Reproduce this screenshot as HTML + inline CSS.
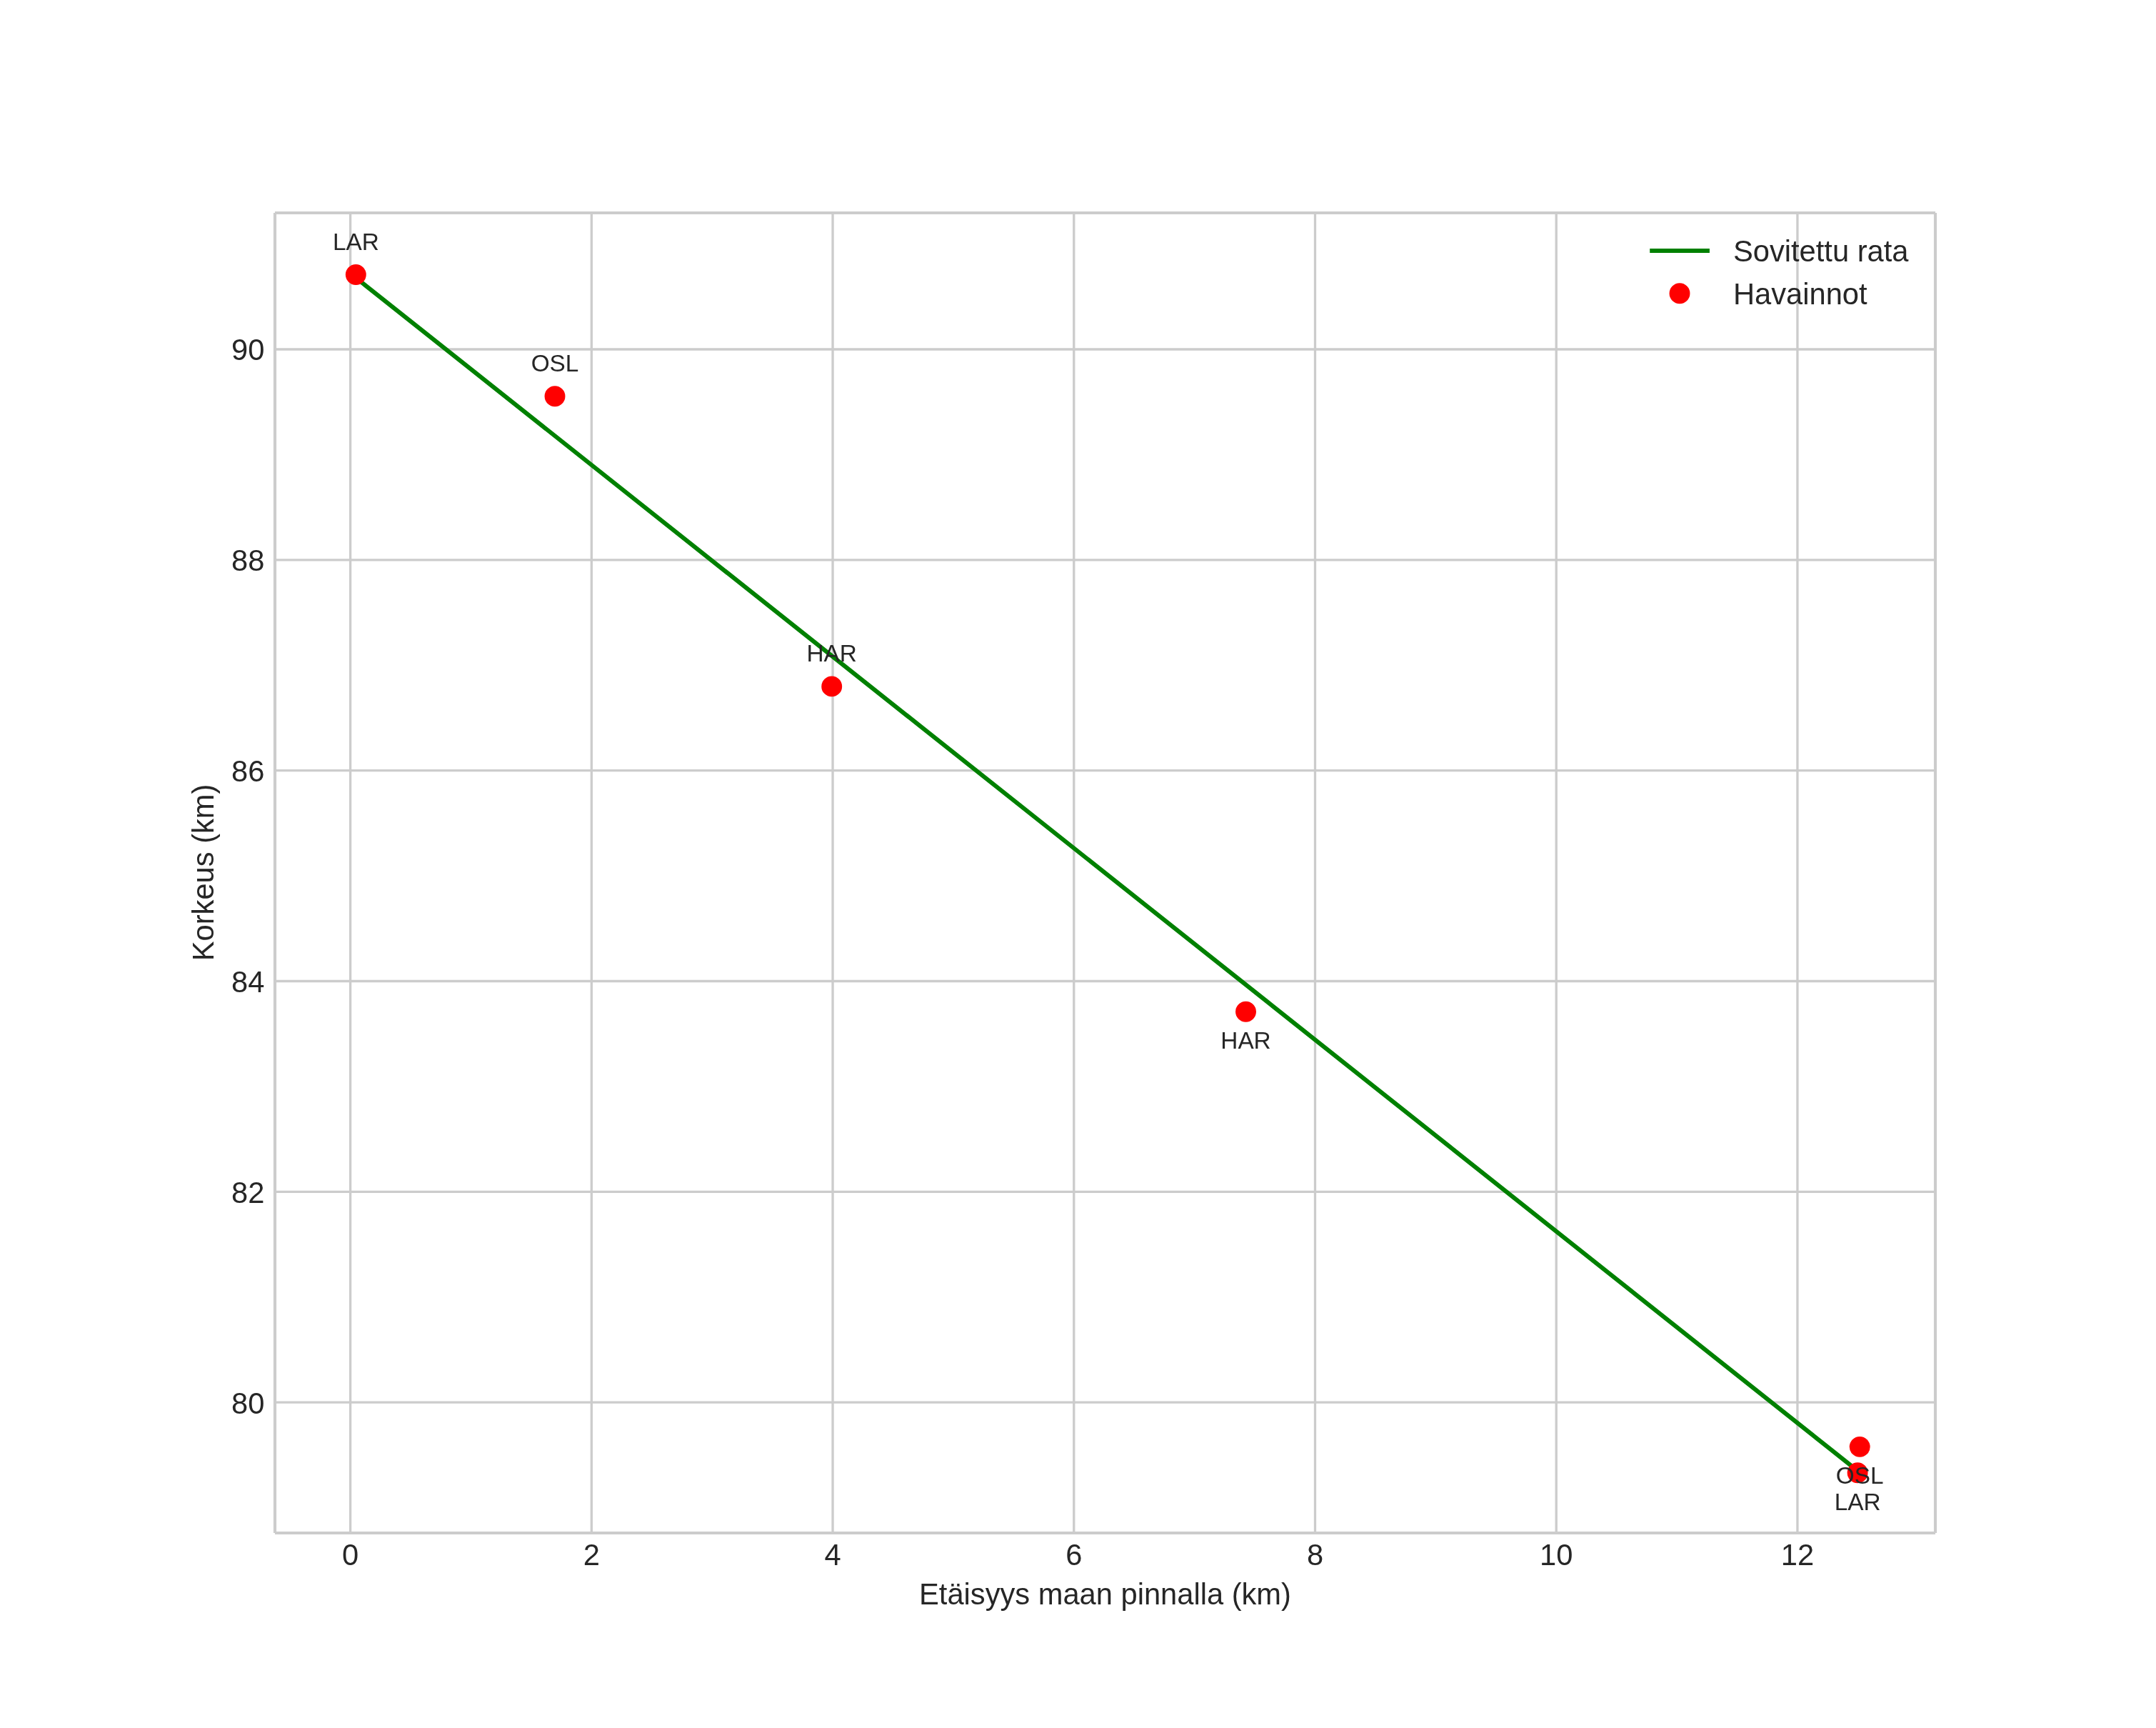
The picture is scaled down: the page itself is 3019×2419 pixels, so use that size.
<!DOCTYPE html><html><head><meta charset="utf-8"><title>Sovitettu rata</title><style>html,body{margin:0;padding:0;background:#fff;overflow:hidden;}svg{display:block;will-change:transform;}svg text{font-family:"Liberation Sans",sans-serif;fill:#262626;}</style></head><body>
<svg width="3019" height="2419" viewBox="0 0 3019 2419">
<rect x="0" y="0" width="3019" height="2419" fill="#ffffff"/>
<path d="M490.60 298.0V2146.0M828.32 298.0V2146.0M1166.04 298.0V2146.0M1503.76 298.0V2146.0M1841.48 298.0V2146.0M2179.20 298.0V2146.0M2516.92 298.0V2146.0M385.0 1963.20H2710.0M385.0 1668.36H2710.0M385.0 1373.52H2710.0M385.0 1078.68H2710.0M385.0 783.84H2710.0M385.0 489.00H2710.0" stroke="#cccccc" stroke-width="3.33" fill="none"/>
<line x1="490.6" y1="382.7" x2="2601.35" y2="2059.03" stroke="#008000" stroke-width="6.05" stroke-linecap="round"/>
<circle cx="498.3" cy="384.5" r="14.45" fill="#ff0000"/>
<circle cx="777.0" cy="554.8" r="14.45" fill="#ff0000"/>
<circle cx="1164.7" cy="960.9" r="14.45" fill="#ff0000"/>
<circle cx="1744.5" cy="1416.3" r="14.45" fill="#ff0000"/>
<circle cx="2604.2" cy="2025.4" r="14.45" fill="#ff0000"/>
<circle cx="2601.1" cy="2061.8" r="14.45" fill="#ff0000"/>
<path d="M385.0 298.0V2146.0M2710.0 298.0V2146.0M385.0 298.0H2710.0M385.0 2146.0H2710.0" fill="none" stroke="#cccccc" stroke-width="4.17" stroke-linecap="butt"/>
<text x="498.3" y="350.0" font-size="33.33" text-anchor="middle">LAR</text>
<text x="777.0" y="519.9" font-size="33.33" text-anchor="middle">OSL</text>
<text x="1164.7" y="926.0" font-size="33.33" text-anchor="middle">HAR</text>
<text x="1744.5" y="1468.0" font-size="33.33" text-anchor="middle">HAR</text>
<text x="2604.2" y="2077.0" font-size="33.33" text-anchor="middle">OSL</text>
<text x="2601.1" y="2114.0" font-size="33.33" text-anchor="middle">LAR</text>
<text x="370.4" y="1978.50" font-size="41.67" text-anchor="end">80</text>
<text x="370.4" y="1683.66" font-size="41.67" text-anchor="end">82</text>
<text x="370.4" y="1388.82" font-size="41.67" text-anchor="end">84</text>
<text x="370.4" y="1093.98" font-size="41.67" text-anchor="end">86</text>
<text x="370.4" y="799.14" font-size="41.67" text-anchor="end">88</text>
<text x="370.4" y="504.30" font-size="41.67" text-anchor="end">90</text>
<text x="490.60" y="2190.7" font-size="41.67" text-anchor="middle">0</text>
<text x="828.32" y="2190.7" font-size="41.67" text-anchor="middle">2</text>
<text x="1166.04" y="2190.7" font-size="41.67" text-anchor="middle">4</text>
<text x="1503.76" y="2190.7" font-size="41.67" text-anchor="middle">6</text>
<text x="1841.48" y="2190.7" font-size="41.67" text-anchor="middle">8</text>
<text x="2179.20" y="2190.7" font-size="41.67" text-anchor="middle">10</text>
<text x="2516.92" y="2190.7" font-size="41.67" text-anchor="middle">12</text>
<text x="1547.5" y="2246.1" font-size="41.67" text-anchor="middle">Etäisyys maan pinnalla (km)</text>
<text transform="translate(298.6 1221.4) rotate(-90)" x="0" y="0" font-size="41.67" text-anchor="middle">Korkeus (km)</text>
<line x1="2310.2" y1="351.05" x2="2393.9" y2="351.05" stroke="#008000" stroke-width="6.05"/>
<circle cx="2352.0" cy="410.7" r="14.45" fill="#ff0000"/>
<text x="2427.0" y="365.9" font-size="41.67">Sovitettu rata</text>
<text x="2427.0" y="425.6" font-size="41.67">Havainnot</text>
</svg></body></html>
